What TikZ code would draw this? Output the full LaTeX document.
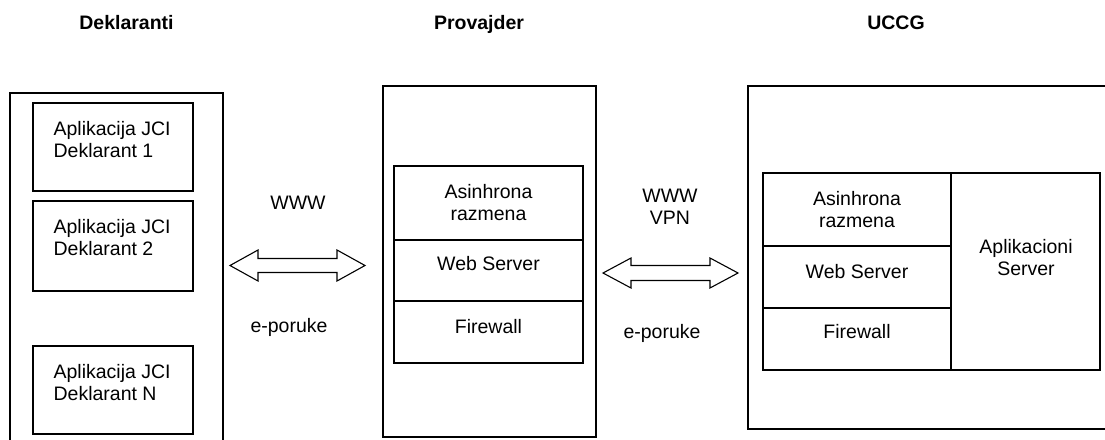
\documentclass[tikz,border=0pt]{standalone}
\usepackage{fontspec}
\setmainfont{Liberation Sans}
\usetikzlibrary{calc}
\newcommand\mydblarrow[4]{%
  \draw[arrowline] (#1) -- ($(#1)+(28,-#3)$) -- ($(#1)+(28,-#4)$) -- ($(#2)+(-28,-#4)$)
    -- ($(#2)+(-28,-#3)$) -- (#2) -- ($(#2)+(-28,#3)$) -- ($(#2)+(-28,#4)$)
    -- ($(#1)+(28,#4)$) -- ($(#1)+(28,#3)$) -- cycle;}
\begin{document}
\begin{tikzpicture}[x=1pt,y=-1pt,line width=1.2pt,
  txt/.style={font=\fontsize{19.5}{22.4}\selectfont, inner sep=0pt},
  ttl/.style={font=\fontsize{19.5}{22.4}\selectfont\bfseries, inner sep=0pt, anchor=base},
  box/.style={draw, inner sep=0pt, outer sep=0pt, anchor=north west},
  arrowline/.style={line width=1.1pt, line join=miter}]
\clip (0,0) rectangle (1105,439);
\fill[white] (0,0) rectangle (1105,439);
% titles
\node[ttl] (t1) at (126.5,29) {Deklaranti};
\node[ttl] (t2) at (479,29) {Provajder};
\node[ttl] (t3) at (896,29) {UCCG};
% left column
\node[box, minimum width=213, minimum height=400] (dekl) at (10,93) {};
\node[box, minimum width=160, minimum height=88] (d1) at (33,103) {};
\node[box, minimum width=160, minimum height=90] (d2) at (33,201) {};
\node[box, minimum width=160, minimum height=88] (dn) at (33,346) {};
\node[txt, anchor=base west, align=left] (d1t) at (53,157.4) {Aplikacija JCI\\Deklarant 1};
\node[txt, anchor=base west, align=left] (d2t) at (53,255.4) {Aplikacija JCI\\Deklarant 2};
\node[txt, anchor=base west, align=left] (dnt) at (53,400.4) {Aplikacija JCI\\Deklarant N};
% middle column
\node[box, minimum width=213, minimum height=351] (prov) at (383,86) {};
\node[box, minimum width=189, minimum height=74] (pa) at (394,166) {};
\node[box, minimum width=189, minimum height=61] (pw) at (394,240) {};
\node[box, minimum width=189, minimum height=62] (pf) at (394,301) {};
\node[txt, anchor=base, align=center] (pat) at (488.5,220.4) {Asinhrona\\razmena};
\node[txt, anchor=base] (pwt) at (488.5,270) {Web Server};
\node[txt, anchor=base] (pft) at (488.5,333) {Firewall};
% right column
\node[box, minimum width=420, minimum height=343] (uccg) at (748,86) {};
\node[box, minimum width=188, minimum height=73] (ua) at (763,173) {};
\node[box, minimum width=188, minimum height=62] (uw) at (763,246) {};
\node[box, minimum width=188, minimum height=62] (uf) at (763,308) {};
\node[box, minimum width=149, minimum height=197] (us) at (951,173) {};
\node[txt, anchor=base, align=center] (uat) at (857,227.4) {Asinhrona\\razmena};
\node[txt, anchor=base] (uwt) at (857,278) {Web Server};
\node[txt, anchor=base] (uft) at (857,338) {Firewall};
\node[txt, anchor=base, align=center] (ust) at (1026,275.4) {Aplikacioni\\Server};
% connectors
\coordinate (a1s) at (230,265.5);
\coordinate (a1e) at (365,265.5);
\coordinate (a2s) at (603,273);
\coordinate (a2e) at (738,273);
\mydblarrow{a1s}{a1e}{15.5}{7}
\mydblarrow{a2s}{a2e}{15}{7.5}
\node[txt, anchor=base] (l1a) at (298,209) {WWW};
\node[txt, anchor=base] (l1b) at (289,332) {e-poruke};
\node[txt, anchor=base, align=center] (l2a) at (670,224.4) {WWW\\VPN};
\node[txt, anchor=base] (l2b) at (662,338) {e-poruke};
\end{tikzpicture}
\end{document}
